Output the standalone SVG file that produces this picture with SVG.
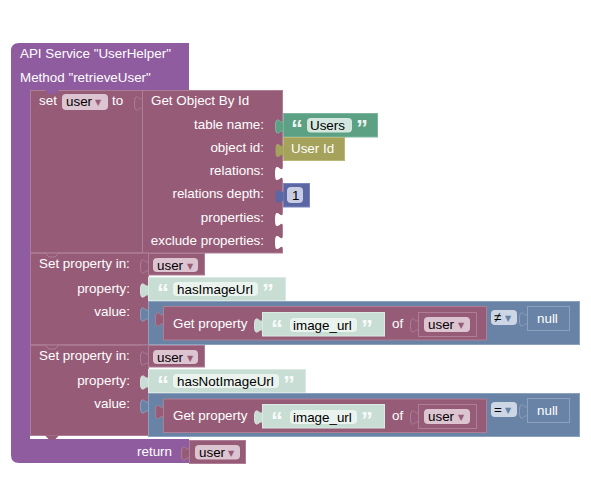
<svg xmlns="http://www.w3.org/2000/svg" xmlns:xlink="http://www.w3.org/1999/xlink" width="591" height="500" viewBox="0 0 591 500">
<style>
.t{font-family:"Liberation Sans",Arial,sans-serif;font-size:13.4px;fill:#fff}
.k{fill:#000}
.e{text-anchor:end}
.ar{font-family:"DejaVu Sans",sans-serif;font-size:8px}
.q{font-family:"Liberation Sans",Arial,sans-serif;font-size:24px;font-weight:bold;fill:#fff;fill-opacity:0.9}
.mar{fill:#965c77;stroke:#ad7e95;stroke-width:1}
.pur{fill:#8f5c9f}
.grn{fill:#5da185;stroke:#7fb59e;stroke-width:1}
.pale{fill:#c8ddd4;stroke:#dbe9e3;stroke-width:1}
.blu{fill:#6883a6;stroke:#8ca2bf;stroke-width:1}
.vf{fill:#dcc4d0}
.sf{fill:#ebf3ef}
</style>
<defs>
<path id="tab" d="M0,5 C0,15 -8,-3 -8,12.5 C-8,28 0,10 0,20 Z"/>
</defs>

<g id="procedure">
<path class="pur" d="M11,51 Q11,43 19,43 H189 V90 H30 V439 H189 V463 H19 Q11,463 11,455 Z"/>
<text class="t" x="20" y="58">API Service "UserHelper"</text>
<text class="t" x="20" y="81.5">Method "retrieveUser"</text>
<text class="t" x="137" y="456">return</text>
</g>

<g id="set-user">
<rect class="mar" x="30.5" y="90.5" width="112" height="162.5"/>
<path class="pur" d="M45,90 l4,4 h6 l4,-4 z"/>
<text class="t" x="39" y="105">set</text>
<rect class="vf" x="62" y="94" width="46" height="16" rx="4"/>
<text class="t k" x="66" y="106">user</text>
<text class="t ar" x="95" y="105" style="fill:#965c77">▼</text>
<text class="t" x="112" y="105">to</text>
</g>

<g id="get-object">
<rect class="mar" x="142.5" y="90.5" width="140" height="162.5"/>
<use href="#tab" x="142.5" y="91" class="mar"/>
<text class="t" x="151" y="105">Get Object By Id</text>
<text class="t e" x="264" y="129">table name:</text>
<text class="t e" x="264" y="152">object id:</text>
<text class="t e" x="264" y="175">relations:</text>
<text class="t e" x="264" y="198">relations depth:</text>
<text class="t e" x="264" y="222">properties:</text>
<text class="t e" x="264" y="245">exclude properties:</text>
<use href="#tab" x="283" y="161" fill="#fff"/>
<use href="#tab" x="283" y="207" fill="#fff"/>
<use href="#tab" x="283" y="230" fill="#fff"/>
</g>

<g id="text-users">
<rect class="grn" x="283.5" y="113.5" width="94" height="23.5"/>
<use href="#tab" x="283.5" y="114" class="grn"/>
<text class="q" x="291" y="137">“</text>
<rect x="307" y="118" width="45" height="14.5" rx="4" fill="#d4e7df"/>
<text class="t k" x="310" y="130">Users</text>
<text class="q" x="356" y="137">”</text>
</g>

<g id="user-id">
<rect x="283.5" y="137.5" width="61" height="23" fill="#a4a25b" stroke="#bab877"/>
<use href="#tab" x="283.5" y="138" fill="#a4a25b"/>
<text class="t" x="291" y="153">User Id</text>
</g>

<g id="number-1">
<rect x="283.5" y="183.5" width="26" height="23.5" fill="#5b67a5" stroke="#7b85b8"/>
<use href="#tab" x="283.5" y="184" fill="#5b67a5"/>
<rect x="287" y="187" width="16" height="16" rx="4" fill="#c9cde4"/>
<text class="t k" x="292" y="200">1</text>
</g>

<g id="set-property-1">
<rect class="mar" x="30.5" y="253" width="118" height="92"/>
<path d="M30.5,253 H45 l4,4 h6 l4,-4 H142" fill="none" stroke="#ad7e95"/>
<text class="t" x="39" y="268">Set property in:</text>
<text class="t e" x="130" y="293">property:</text>
<text class="t e" x="130" y="316">value:</text>
</g>

<g id="var-user-1">
<rect class="mar" x="148.5" y="253.5" width="56" height="21.5"/>
<use href="#tab" x="148.5" y="254" class="mar"/>
<rect class="vf" x="153" y="258" width="45" height="14" rx="4"/>
<text class="t k" x="157" y="270">user</text>
<text class="t ar" x="187" y="269" style="fill:#965c77">▼</text>
</g>

<g id="str-hasImageUrl">
<rect class="pale" x="148.5" y="277.5" width="137" height="23"/>
<use href="#tab" x="148.5" y="278" class="pale"/>
<text class="q" x="157" y="301">“</text>
<rect class="sf" x="173" y="282" width="85" height="14" rx="4"/>
<text class="t k" x="177" y="294">hasImageUrl</text>
<text class="q" x="262" y="301">”</text>
</g>

<g id="compare-1">
<rect class="blu" x="148.5" y="301.5" width="431" height="43"/>
<use href="#tab" x="148.5" y="302" class="blu"/>
<rect x="491" y="310" width="26" height="15" rx="4" fill="#ccd6e5"/>
<text class="t k" x="494" y="322">≠</text>
<text class="t ar" x="505" y="321" style="fill:#6883a6">▼</text>
</g>

<g id="get-property-1">
<rect class="mar" x="163.5" y="306.5" width="323" height="33.5"/>
<use href="#tab" x="163.5" y="307" class="mar"/>
<text class="t" x="173" y="328">Get property</text>
<text class="t" x="392" y="328">of</text>
</g>

<g id="str-image_url-1">
<rect class="pale" x="262.5" y="312.5" width="122" height="23.5"/>
<use href="#tab" x="262.5" y="313" class="pale"/>
<text class="q" x="271" y="337">“</text>
<rect class="sf" x="290" y="318" width="67" height="14" rx="4"/>
<text class="t k" x="293" y="330">image_url</text>
<text class="q" x="361" y="337">”</text>
</g>

<g id="var-user-2">
<rect class="mar" x="418.5" y="312.5" width="58" height="24"/>
<use href="#tab" x="418.5" y="313" class="mar"/>
<rect class="vf" x="424" y="317" width="46" height="15" rx="4"/>
<text class="t k" x="428" y="329">user</text>
<text class="t ar" x="458" y="328" style="fill:#965c77">▼</text>
</g>

<g id="null-1">
<rect class="blu" x="527.5" y="306.5" width="42" height="24"/>
<use href="#tab" x="527.5" y="307" class="blu"/>
<text class="t" x="537" y="323">null</text>
</g>

<g id="set-property-2">
<rect class="mar" x="30.5" y="345" width="118" height="90.5"/>
<path d="M30.5,345 H45 l4,4 h6 l4,-4 H142" fill="none" stroke="#ad7e95"/>
<path d="M45,435.5 l4,4 h6 l4,-4 z" fill="#965c77"/>
<text class="t" x="39" y="360">Set property in:</text>
<text class="t e" x="130" y="385">property:</text>
<text class="t e" x="130" y="408">value:</text>
</g>

<g id="var-user-3">
<rect class="mar" x="148.5" y="345.5" width="56" height="21.5"/>
<use href="#tab" x="148.5" y="346" class="mar"/>
<rect class="vf" x="153" y="350" width="45" height="14" rx="4"/>
<text class="t k" x="157" y="362">user</text>
<text class="t ar" x="187" y="361" style="fill:#965c77">▼</text>
</g>

<g id="str-hasNotImageUrl">
<rect class="pale" x="148.5" y="369.5" width="157" height="23"/>
<use href="#tab" x="148.5" y="370" class="pale"/>
<text class="q" x="157" y="393">“</text>
<rect class="sf" x="173" y="374" width="106" height="14" rx="4"/>
<text class="t k" x="177" y="386">hasNotImageUrl</text>
<text class="q" x="283" y="393">”</text>
</g>

<g id="compare-2">
<rect class="blu" x="148.5" y="393.5" width="431" height="43"/>
<use href="#tab" x="148.5" y="394" class="blu"/>
<rect x="491" y="402" width="26" height="15" rx="4" fill="#ccd6e5"/>
<text class="t k" x="494" y="414">=</text>
<text class="t ar" x="505" y="413" style="fill:#6883a6">▼</text>
</g>

<g id="get-property-2">
<rect class="mar" x="163.5" y="399" width="323" height="33.5"/>
<use href="#tab" x="163.5" y="399.5" class="mar"/>
<text class="t" x="173" y="420">Get property</text>
<text class="t" x="392" y="420">of</text>
</g>

<g id="str-image_url-2">
<rect class="pale" x="262.5" y="404.5" width="122" height="23.5"/>
<use href="#tab" x="262.5" y="405" class="pale"/>
<text class="q" x="271" y="429">“</text>
<rect class="sf" x="290" y="410" width="67" height="14" rx="4"/>
<text class="t k" x="293" y="422">image_url</text>
<text class="q" x="361" y="429">”</text>
</g>

<g id="var-user-4">
<rect class="mar" x="418.5" y="404.5" width="58" height="24"/>
<use href="#tab" x="418.5" y="405" class="mar"/>
<rect class="vf" x="424" y="409" width="46" height="15" rx="4"/>
<text class="t k" x="428" y="421">user</text>
<text class="t ar" x="458" y="420" style="fill:#965c77">▼</text>
</g>

<g id="null-2">
<rect class="blu" x="527.5" y="398.5" width="42" height="24"/>
<use href="#tab" x="527.5" y="399" class="blu"/>
<text class="t" x="537" y="415">null</text>
</g>

<g id="return-user">
<rect class="mar" x="189.5" y="440.5" width="56" height="23"/>
<use href="#tab" x="189.5" y="441" class="mar"/>
<rect class="vf" x="195" y="445" width="45" height="14.5" rx="4"/>
<text class="t k" x="199" y="457">user</text>
<text class="t ar" x="228" y="456" style="fill:#965c77">▼</text>
</g>

<g id="connectors"></g>
</svg>
